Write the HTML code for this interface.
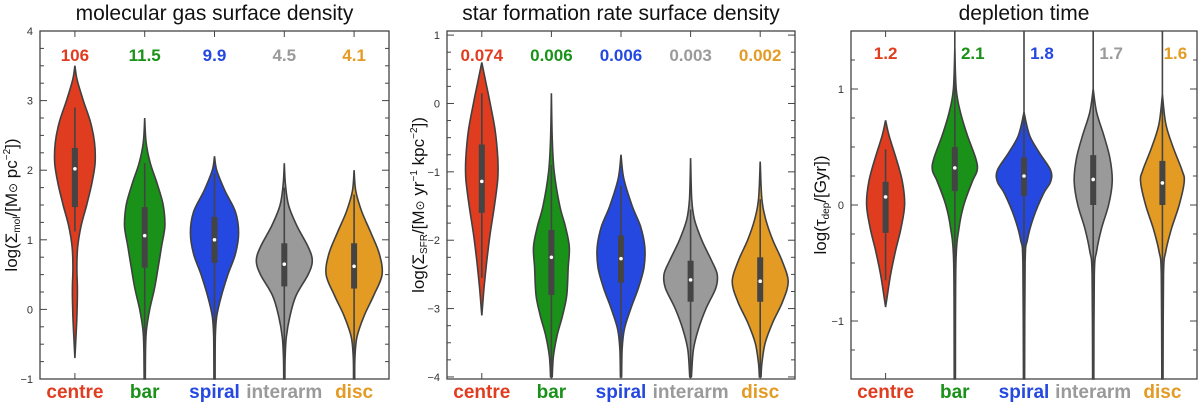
<!DOCTYPE html>
<html><head><meta charset="utf-8"><style>
html,body{margin:0;padding:0;background:#fff;}
svg{display:block;font-family:"Liberation Sans",Arial,sans-serif;}
</style></head><body>
<svg id="c" width="1200" height="406" viewBox="0 0 1200 406" xmlns="http://www.w3.org/2000/svg"></svg>
<script>
const categories = ["centre","bar","spiral","interarm","disc"];
const colors = ["#e03c1f","#1a9118","#2448e0","#9a9a9a","#e39b24"];
const panelTitles = ["molecular gas surface density","star formation rate surface density","depletion time"];
const medianLabels1 = ["106","11.5","9.9","4.5","4.1"];
const medianLabels2 = ["0.074","0.006","0.006","0.003","0.002"];
const medianLabels3 = ["1.2","2.1","1.8","1.7","1.6"];
const yTicks1 = [-1,0,1,2,3,4];
const yTicks2 = [-4,-3,-2,-1,0,1];
const yTicks3 = [-1,0,1];
// violin density profiles [value, relative half-width]
const prof1 = [
 [[3.5,0],[3.3,0.08],[3.0,0.3],[2.7,0.55],[2.4,0.7],[2.1,0.72],[1.8,0.6],[1.5,0.42],[1.2,0.22],[0.9,0.1],[0.6,0.07],[0.3,0.09],[0.0,0.08],[-0.3,0.05],[-0.7,0]],
 [[2.75,0],[2.4,0.05],[2.1,0.2],[1.8,0.45],[1.5,0.66],[1.2,0.72],[0.9,0.6],[0.6,0.48],[0.3,0.35],[0.0,0.18],[-0.3,0.06],[-0.6,0.03],[-1,0.02]],
 [[2.2,0],[2.0,0.08],[1.7,0.38],[1.4,0.75],[1.1,0.86],[0.8,0.75],[0.5,0.48],[0.2,0.25],[-0.1,0.08],[-0.4,0.03],[-1,0.02]],
 [[2.1,0],[1.8,0.04],[1.5,0.15],[1.2,0.45],[0.9,0.85],[0.7,1.0],[0.5,0.85],[0.2,0.42],[-0.1,0.2],[-0.4,0.07],[-0.7,0.03],[-1,0.02]],
 [[2.0,0],[1.7,0.06],[1.4,0.28],[1.1,0.6],[0.8,0.9],[0.5,1.0],[0.2,0.7],[-0.1,0.35],[-0.4,0.1],[-0.7,0.03],[-1,0.02]]
];
const prof2 = [
 [[0.6,0],[0.3,0.15],[0,0.3],[-0.4,0.48],[-0.8,0.57],[-1.1,0.57],[-1.5,0.45],[-1.9,0.3],[-2.3,0.18],[-2.7,0.08],[-3.1,0]],
 [[0.15,0],[-0.5,0.03],[-1.0,0.1],[-1.5,0.3],[-1.8,0.5],[-2.1,0.64],[-2.4,0.6],[-2.8,0.55],[-3.1,0.4],[-3.4,0.2],[-3.7,0.07],[-4,0.03]],
 [[-0.75,0],[-1.1,0.1],[-1.5,0.4],[-1.8,0.7],[-2.1,0.85],[-2.4,0.82],[-2.7,0.62],[-3.0,0.35],[-3.3,0.12],[-3.6,0.04],[-4,0.02]],
 [[-0.8,0],[-1.4,0.04],[-1.7,0.14],[-2.0,0.4],[-2.3,0.75],[-2.5,0.95],[-2.7,0.9],[-3.0,0.55],[-3.3,0.28],[-3.6,0.1],[-4,0.03]],
 [[-0.85,0],[-1.4,0.06],[-1.7,0.2],[-2.0,0.45],[-2.3,0.78],[-2.6,1.0],[-2.9,0.8],[-3.2,0.45],[-3.5,0.18],[-3.8,0.06],[-4,0.03]]
];
const prof3 = [
 [[0.73,0],[0.6,0.12],[0.4,0.38],[0.2,0.6],[0.0,0.68],[-0.2,0.55],[-0.4,0.35],[-0.6,0.18],[-0.8,0.05],[-0.88,0]],
 [[1.35,0],[1.0,0.05],[0.8,0.2],[0.6,0.45],[0.4,0.75],[0.3,0.8],[0.2,0.62],[0,0.32],[-0.2,0.15],[-0.5,0.04],[-1.5,0.02]],
 [[0.8,0],[0.6,0.2],[0.45,0.55],[0.3,0.95],[0.2,0.95],[0.1,0.7],[-0.1,0.35],[-0.3,0.12],[-0.5,0.04],[-1.5,0.02]],
 [[1.0,0],[0.8,0.12],[0.6,0.38],[0.4,0.6],[0.2,0.68],[0.0,0.55],[-0.2,0.3],[-0.4,0.12],[-0.6,0.04],[-1.5,0.02]],
 [[0.95,0],[0.7,0.12],[0.5,0.38],[0.3,0.7],[0.2,0.78],[0.0,0.6],[-0.2,0.33],[-0.4,0.12],[-0.6,0.04],[-1.5,0.02]]
];
// box stats: [whiskerLo, q1, median, q3, whiskerHi]
const stats1 = [[1.12,1.47,2.02,2.32,2.9],[-1,0.6,1.06,1.47,2.1],[-1,0.67,1.0,1.33,1.95],[-1,0.33,0.65,0.95,1.75],[-1,0.3,0.62,0.95,1.65]];
const stats2 = [[-2.55,-1.6,-1.14,-0.6,0.15],[-4,-2.8,-2.25,-1.85,-0.9],[-4,-2.62,-2.27,-1.93,-1.2],[-4,-2.9,-2.58,-2.3,-1.55],[-4,-2.9,-2.6,-2.25,-1.4]];
const stats3 = [[-0.65,-0.24,0.07,0.2,0.48],[-1.5,0.12,0.32,0.5,1.5],[-1.5,0.08,0.25,0.41,1.5],[-1.5,0.0,0.22,0.43,1.5],[-1.5,0.0,0.19,0.38,1.5]];

const NS="http://www.w3.org/2000/svg";
const svg=document.getElementById('c');
function mk(tag,attrs,parent){const e=document.createElementNS(NS,tag);for(const k in attrs)e.setAttribute(k,attrs[k]);(parent||svg).appendChild(e);return e;}

const panels=[
 {x0:40,x1:389,ymin:-1,ymax:4,title:panelTitles[0],labels:medianLabels1,labOff:[0,0,0,0,0],labY:61,ticks:yTicks1,prof:prof1,stats:stats1,tx:17,ytitle:'log(Σ<tspan font-size="10" dy="3">mol</tspan><tspan dy="-3">/[M</tspan><tspan font-size="12">⊙</tspan> pc<tspan font-size="10" dy="-7">−2</tspan><tspan dy="7">])</tspan>'},
 {x0:447,x1:795,ymin:-4.03,ymax:1.06,title:panelTitles[1],labels:medianLabels2,labOff:[0,0,0,0,0],labY:61,ticks:yTicks2,prof:prof2,stats:stats2,tx:424,ytitle:'log(Σ<tspan font-size="10" dy="3">SFR</tspan><tspan dy="-3">/[M</tspan><tspan font-size="12">⊙</tspan> yr<tspan font-size="10" dy="-7">−1</tspan><tspan dy="7"> kpc</tspan><tspan font-size="10" dy="-7">−2</tspan><tspan dy="7">])</tspan>'},
 {x0:851,x1:1197,ymin:-1.5,ymax:1.5,title:panelTitles[2],labels:medianLabels3,labOff:[0,18,18,18,13],labY:59,ticks:yTicks3,prof:prof3,stats:stats3,tx:826,ytitle:'log(τ<tspan font-size="10" dy="3">dep</tspan><tspan dy="-3">/[Gyr])</tspan>'}
];
const Y0=31,Y1=379,SCALE=28;

function smoothPath(pts){
 let d='M'+pts[0][0]+','+pts[0][1];
 for(let i=0;i<pts.length-1;i++){
  const p0=pts[Math.max(i-1,0)],p1=pts[i],p2=pts[i+1],p3=pts[Math.min(i+2,pts.length-1)];
  const c1=[p1[0]+(p2[0]-p0[0])/6,p1[1]+(p2[1]-p0[1])/6];
  const c2=[p2[0]-(p3[0]-p1[0])/6,p2[1]-(p3[1]-p1[1])/6];
  d+=' C'+c1[0].toFixed(1)+','+c1[1].toFixed(1)+' '+c2[0].toFixed(1)+','+c2[1].toFixed(1)+' '+p2[0].toFixed(1)+','+p2[1].toFixed(1);
 }
 return d;
}

panels.forEach((P,pi)=>{
 const g=mk('g',{});
 
 
 const yS=v=>Y1-(v-P.ymin)/(P.ymax-P.ymin)*(Y1-Y0);
 const step=(P.x1-P.x0)/5;
 const xS=i=>P.x0+step*(i+0.5);
 const t=mk('text',{x:(P.x0+P.x1)/2,y:20,'text-anchor':'middle','font-size':21,fill:'#111'},g);
 t.textContent=P.title;
 
 
 P.prof.forEach((pr,i)=>{
  const cx=xS(i);
  const right=pr.map(p=>[cx+p[1]*SCALE,yS(p[0])]);
  const left=pr.slice().reverse().map(p=>[cx-p[1]*SCALE,yS(p[0])]);
  const d=smoothPath(right)+' L'+smoothPath(left).slice(1)+' Z';
  const v=mk('path',{d:d,fill:colors[i],stroke:'#404040','stroke-width':1.6},g);
  
  
  const s=P.stats[i];
  const w=mk('line',{x1:cx,x2:cx,y1:yS(s[0]),y2:yS(s[4]),stroke:'#444','stroke-width':1.6},g);
  
  
  const b=mk('rect',{x:cx-3,width:6,y:yS(s[3]),height:yS(s[1])-yS(s[3]),fill:'#444'},g);
  
  
  const m=mk('circle',{cx:cx,cy:yS(s[2]),r:1.8,fill:'#fff'},g);
  
  
  const cl=mk('text',{x:cx,y:398,'text-anchor':'middle','font-size':19,'font-weight':'bold',fill:colors[i]},g);
  cl.textContent=categories[i];
  
  
  mk('line',{x1:cx,x2:cx,y1:Y0,y2:Y0+6,stroke:'#444','stroke-width':1},g);
  mk('line',{x1:cx,x2:cx,y1:Y1,y2:Y1-6,stroke:'#444','stroke-width':1},g);
 });
 P.labels.forEach((L,i)=>{
  const lab=mk('text',{x:xS(i)+P.labOff[i],y:P.labY,'text-anchor':'middle','font-size':17,'font-weight':'bold',fill:colors[i]},g);
  lab.textContent=L;
  
  
 });
 for(let v=Math.ceil(P.ymin*4)/4;v<=P.ymax+1e-9;v+=0.25){
  const major=Math.abs(v-Math.round(v))<1e-6;
  const L=major?7:4;
  mk('line',{x1:P.x0,x2:P.x0+L,y1:yS(v),y2:yS(v),stroke:'#444','stroke-width':1},g);
  mk('line',{x1:P.x1,x2:P.x1-L,y1:yS(v),y2:yS(v),stroke:'#444','stroke-width':1},g);
 }
 P.ticks.forEach(v=>{
  const tl=mk('text',{x:P.x0-7,y:yS(v)+4,'text-anchor':'end','font-size':11,fill:'#333'},g);
  tl.textContent=v<0?'−'+Math.abs(v):String(v);
  
  
 });
 const ax=mk('rect',{x:P.x0,y:Y0,width:P.x1-P.x0,height:Y1-Y0,fill:'none',stroke:'#444','stroke-width':1.3},g);
 
 
 const yt=mk('text',{transform:'translate('+P.tx+','+((Y0+Y1)/2)+') rotate(-90)','text-anchor':'middle','font-size':17,fill:'#111'},g);
 yt.innerHTML=P.ytitle;
 
 
});
</script>
</body></html>
